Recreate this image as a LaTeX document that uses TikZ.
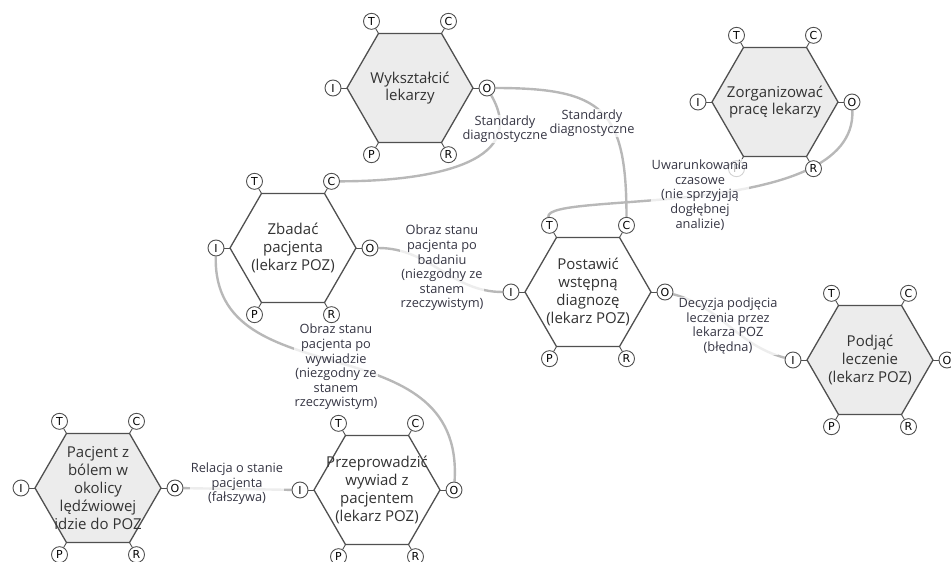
\documentclass[tikz,border=0pt]{standalone}
\usepackage{fontspec}
\setmainfont{Open Sans}
\newfontfamily\portfont{DejaVu Sans}
\usetikzlibrary{shapes.geometric,backgrounds}
\definecolor{hexgray}{HTML}{ECECEC}
\definecolor{hexline}{HTML}{505050}
\definecolor{linkgray}{HTML}{B8B8B8}
\definecolor{lbltext}{HTML}{363644}

\begin{document}
\begin{tikzpicture}[x=1pt, y=1pt, line join=round, line cap=round,
	hex/.style={regular polygon, regular polygon sides=6, minimum size=126pt, inner sep=0pt, outer sep=0pt, draw=hexline, line width=1.3pt},
	hextxt/.style={align=center, font=\fontsize{15}{17.8}\selectfont, text=black!80, inner sep=0pt},
	port/.style={circle, draw=hexline, fill=white, line width=0.9pt, minimum size=16pt, inner sep=0pt, font=\portfont\fontsize{11}{11}\selectfont},
	link/.style={draw=linkgray, line width=2.4pt},
	lbl/.style={align=center, font=\fontsize{12.8}{14.6}\selectfont, text=lbltext, fill=white, fill opacity=0.75, text opacity=1, inner sep=0.5pt}]
	\useasboundingbox (0,0) rectangle (951,-562);
	% functions with their six aspects
	\foreach \n/\x/\y/\f/\t in {
		wyk/410/-88/hexgray/{Wykształcić\\lekarzy},
		org/775/-102/hexgray/{Zorganizować\\pracę lekarzy},
		zba/293/-248/white/{Zbadać\\pacjenta\\(lekarz POZ)},
		pos/588/-292/white/{Postawić\\wstępną\\diagnozę\\(lekarz POZ)},
		pod/870/-360/hexgray/{Podjąć\\leczenie\\(lekarz POZ)},
		pac/98/-488/hexgray/{Pacjent z\\bólem w\\okolicy\\lędźwiowej\\idzie do POZ},
		prz/377/-490/white/{Przeprowadzić\\wywiad z\\pacjentem\\(lekarz POZ)}}
	{
		\node[hex, fill=\f] (\n) at (\x,\y) {};
		\node[hextxt] (\n-txt) at (\n) {\t};
		\foreach \c/\a in {T/120, C/60, O/0, R/300, P/240, I/180}
		{
			\node[port] (\n-\c) at ([shift={(\a:14)}]\n.\a) {\c};
			\draw[hexline, line width=0.9pt] (\n.\a) -- (\n-\c);
		}
	}
	% couplings
	\begin{scope}[on background layer]
		\draw[link] (wyk-O) to[out=-60, in=0, looseness=1.2] (zba-C);
		\draw[link] (wyk-O) to[out=0, in=90, looseness=1.5] (pos-C);
		\draw[link] (org-O) .. controls +(5,-120) and +(-5,35) .. (pos-T);
		\draw[link] (zba-O) to[out=0, in=180] (pos-I);
		\draw[link] (prz-O) .. controls +(11,170) and +(-4,-152) .. (zba-I);
		\draw[link] (pac-O) -- (prz-I);
		\draw[link] (pos-O) to[out=-15, in=165] (pod-I);
	\end{scope}
	\node[lbl] (l-std1) at (505,-129) {Standardy\\diagnostyczne};
	\node[lbl] (l-std2) at (592,-123) {Standardy\\diagnostyczne};
	\node[lbl] (l-time) at (700,-195) {Uwarunkowania\\czasowe\\(nie sprzyjają\\dogłębnej\\analizie)};
	\node[lbl] (l-bad) at (442,-268) {Obraz stanu\\pacjenta po\\badaniu\\(niezgodny ze\\stanem\\rzeczywistym)};
	\node[lbl] (l-wyw) at (336,-367) {Obraz stanu\\pacjenta po\\wywiadzie\\(niezgodny ze\\stanem\\rzeczywistym)};
	\node[lbl] (l-rel) at (237,-484) {Relacja o stanie\\pacjenta\\(fałszywa)};
	\node[lbl] (l-dec) at (728,-326) {Decyzja podjęcia\\leczenia przez\\lekarza POZ\\(błędna)};
\end{tikzpicture}
\end{document}
